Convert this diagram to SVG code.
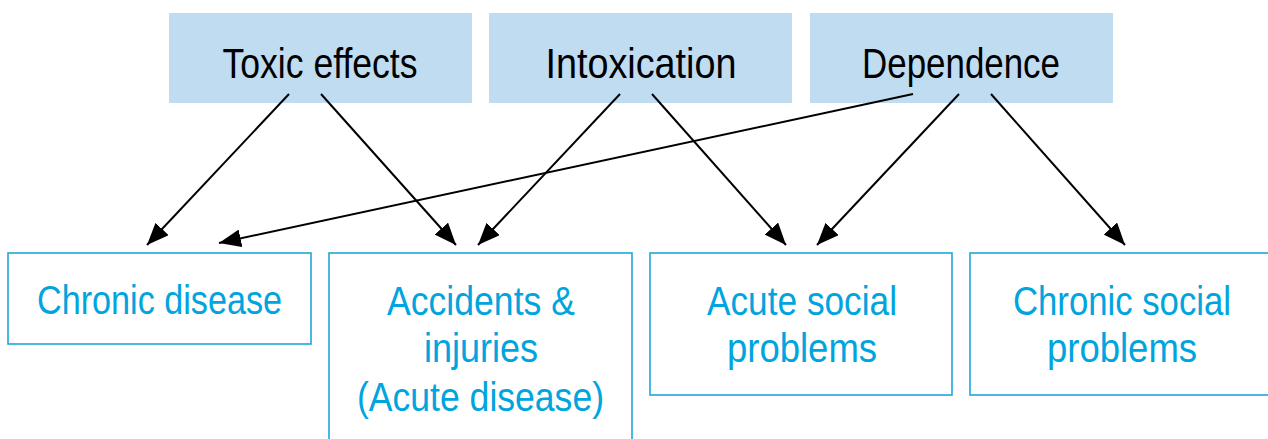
<svg xmlns="http://www.w3.org/2000/svg" width="1268" height="439" viewBox="0 0 1268 439">
<defs>
<style>
.top rect{fill:#C0DCF1;stroke:none}
.top text{font-family:"Liberation Sans",Arial,sans-serif;font-size:42px;fill:#000;text-anchor:middle}
.bot rect{fill:#fff;stroke:#1EA6DE;stroke-width:1.6}
.bot text{font-family:"Liberation Sans",Arial,sans-serif;font-size:40px;fill:#00A4DE;text-anchor:middle}
.conn line{stroke:#000;stroke-width:2;marker-end:url(#ah)}
</style>
<marker id="ah" markerUnits="userSpaceOnUse" markerWidth="24" markerHeight="18" refX="22" refY="9" orient="auto">
<path d="M0,0 L22,9 L0,18 Z" fill="#000"/>
</marker>
</defs>
<rect width="1268" height="439" fill="#fff"/>
<g id="toxic" class="top"><rect x="169" y="13" width="303" height="90"/><text x="320" y="78" textLength="195" lengthAdjust="spacingAndGlyphs">Toxic effects</text></g>
<g id="intox" class="top"><rect x="489" y="13" width="303" height="90"/><text x="641" y="78" textLength="191" lengthAdjust="spacingAndGlyphs">Intoxication</text></g>
<g id="depend" class="top"><rect x="810" y="13" width="303" height="90"/><text x="961" y="78" textLength="198" lengthAdjust="spacingAndGlyphs">Dependence</text></g>
<g id="chronic" class="bot"><rect x="8" y="253" width="303" height="91"/><text x="159.5" y="314" textLength="245" lengthAdjust="spacingAndGlyphs">Chronic disease</text></g>
<g id="accidents" class="bot"><rect x="329" y="253" width="303" height="200"/><text x="481" y="315" textLength="188" lengthAdjust="spacingAndGlyphs">Accidents &amp;</text><text x="481" y="362" textLength="114" lengthAdjust="spacingAndGlyphs">injuries</text><text x="480.5" y="411" textLength="247" lengthAdjust="spacingAndGlyphs">(Acute disease)</text></g>
<g id="acutesocial" class="bot"><rect x="650" y="253" width="302" height="142"/><text x="802" y="315" textLength="190" lengthAdjust="spacingAndGlyphs">Acute social</text><text x="802" y="362" textLength="150" lengthAdjust="spacingAndGlyphs">problems</text></g>
<g id="chronicsocial" class="bot"><rect x="970" y="253" width="305" height="142"/><text x="1122" y="315" textLength="218" lengthAdjust="spacingAndGlyphs">Chronic social</text><text x="1122" y="362" textLength="150" lengthAdjust="spacingAndGlyphs">problems</text></g>
<g id="connectors" class="conn">
<line x1="289" y1="94" x2="147" y2="245"/>
<line x1="321" y1="94" x2="456" y2="245"/>
<line x1="620" y1="94" x2="478" y2="245"/>
<line x1="652" y1="94" x2="786" y2="245"/>
<line x1="913" y1="94" x2="219" y2="243"/>
<line x1="959" y1="94" x2="817" y2="245"/>
<line x1="991" y1="94" x2="1125" y2="245"/>
</g>
</svg>
